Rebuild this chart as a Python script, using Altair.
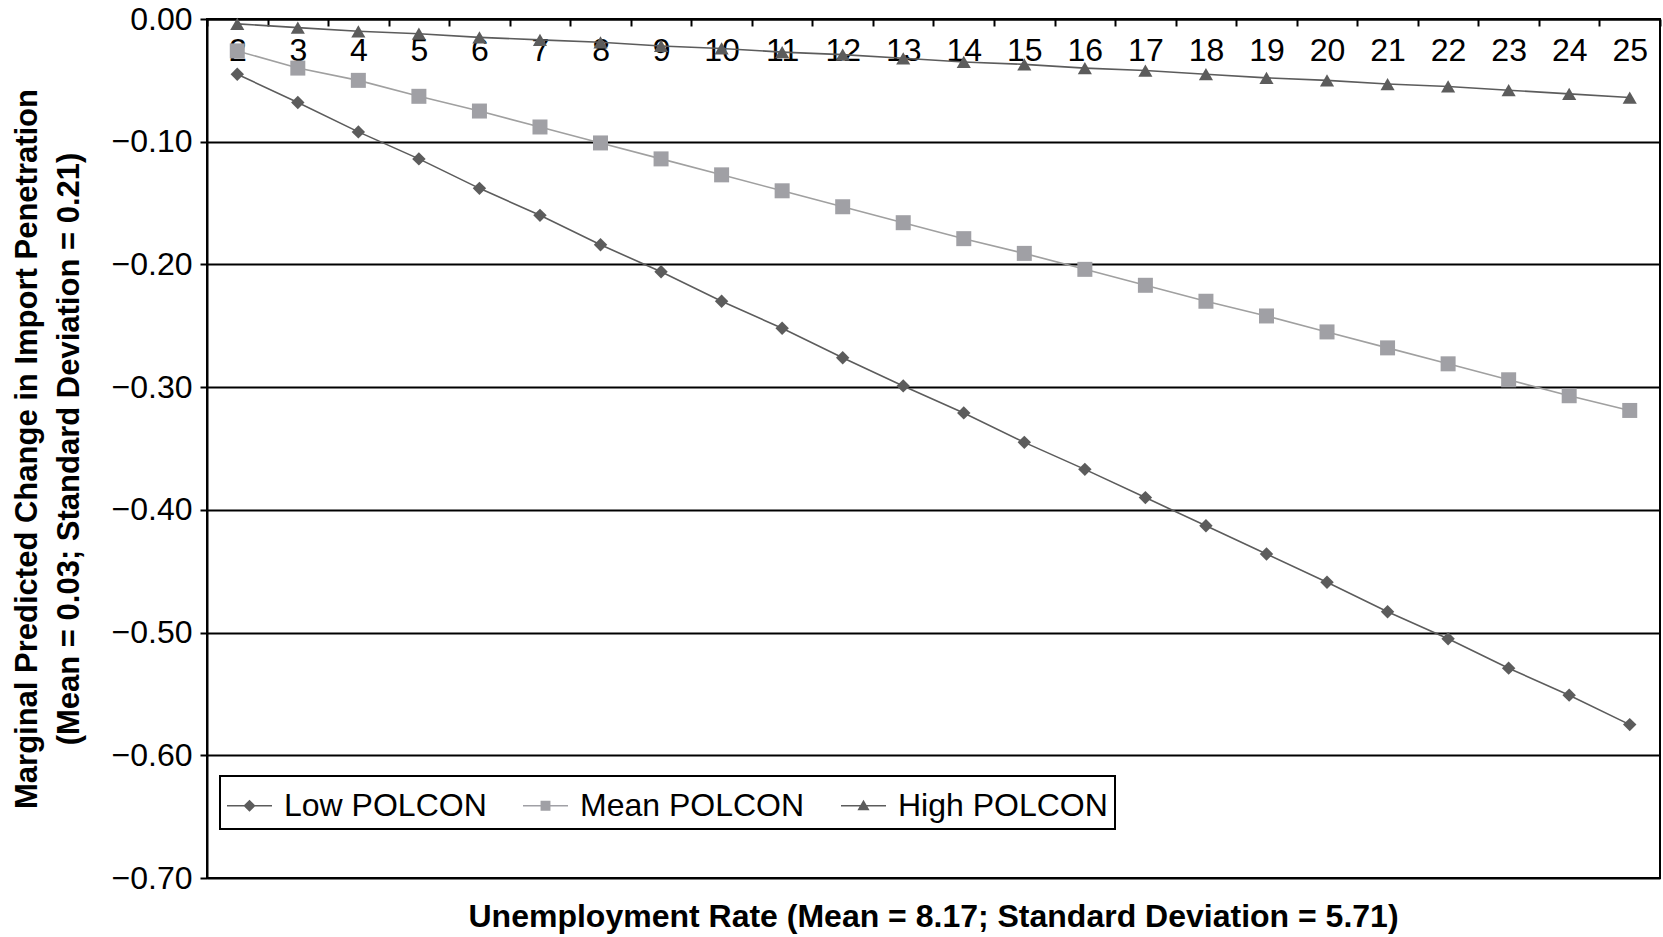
import altair as alt
import pandas as pd

unemployment = [2, 3, 4, 5, 6, 7, 8, 9, 10, 11, 12, 13, 14, 15, 16, 17, 18, 19, 20, 21, 22, 23, 24, 25]
low_polcon = [-0.045, -0.068, -0.092, -0.114, -0.138, -0.160, -0.184, -0.206, -0.230, -0.252,
              -0.276, -0.299, -0.321, -0.345, -0.367, -0.390, -0.413, -0.436, -0.459, -0.483,
              -0.505, -0.529, -0.551, -0.575]
mean_polcon = [-0.026, -0.040, -0.050, -0.063, -0.075, -0.088, -0.101, -0.114, -0.127, -0.140,
               -0.153, -0.166, -0.179, -0.191, -0.204, -0.217, -0.230, -0.242, -0.255, -0.268,
               -0.281, -0.294, -0.307, -0.319]
high_polcon = [-0.004, -0.007, -0.010, -0.012, -0.015, -0.017, -0.019, -0.022, -0.024, -0.027,
               -0.029, -0.032, -0.035, -0.037, -0.040, -0.042, -0.045, -0.048, -0.050, -0.053,
               -0.055, -0.058, -0.061, -0.064]
series_names = ["Low POLCON", "Mean POLCON", "High POLCON"]
y_ticks = [0.0, -0.1, -0.2, -0.3, -0.4, -0.5, -0.6, -0.7]

x_title = "Unemployment Rate (Mean = 8.17; Standard Deviation = 5.71)"
y_title = ["Marginal Predicted Change in Import Penetration",
           "(Mean = 0.03; Standard Deviation = 0.21)"]

rows = []
for name, vals in zip(series_names, [low_polcon, mean_polcon, high_polcon]):
    for u, v in zip(unemployment, vals):
        rows.append({"u": u, "v": v, "series": name})
df = pd.DataFrame(rows)

W, H = 1453, 859
FONT = "Liberation Sans"

x_enc = alt.X(
    "u:O",
    bandPosition=0.5,
    sort=unemployment,
    scale=alt.Scale(type="band", paddingInner=0, paddingOuter=0),
    axis=alt.Axis(
        orient="bottom", offset=-H, title=None, labelAngle=0, tickBand="extent",
        tickSize=7, tickWidth=2, tickColor="black", domain=True, domainColor="black",
        domainWidth=2, labelFontSize=32, labelColor="black", labelPadding=9, grid=False,
    ),
)
y_enc = alt.Y(
    "v:Q",
    scale=alt.Scale(domain=[-0.7, 0], nice=False, zero=False),
    axis=alt.Axis(
        values=y_ticks, format=".2f", title=y_title, titleFontSize=31, titleFontWeight="bold",
        titleColor="black", titleLineHeight=42, titlePadding=26, labelFontSize=32,
        labelColor="black", labelPadding=8, tickSize=7, tickWidth=2, tickColor="black",
        domainColor="black", domainWidth=2, grid=True, gridColor="black", gridWidth=2,
    ),
)

styles = {
    "Low POLCON": {"line": "#5c5c5c", "pt": "#5c5c5c", "shape": "diamond", "size": 180},
    "Mean POLCON": {"line": "#a0a0a0", "pt": "#a0a0a5", "shape": "square", "size": 225},
    "High POLCON": {"line": "#5c5c5c", "pt": "#5c5c5c", "shape": "triangle-up", "size": 200},
}

layers = []
for name in series_names:
    st = styles[name]
    base = alt.Chart(df).transform_filter(alt.datum.series == name)
    layers.append(base.mark_line(color=st["line"], strokeWidth=1.6).encode(x=x_enc, y=y_enc))
    layers.append(
        base.mark_point(shape=st["shape"], filled=True, size=st["size"], color=st["pt"],
                        opacity=1, strokeWidth=0).encode(x=x_enc, y=y_enc)
    )

legend_paths = [
    "M-1,-0.035H1V0.035H-1Z M0,-0.27L0.27,0L0,0.27L-0.27,0Z",
    "M-1,-0.035H1V0.035H-1Z M-0.22,-0.22H0.22V0.22H-0.22Z",
    "M-1,-0.035H1V0.035H-1Z M0,-0.27L0.27,0.2L-0.27,0.2Z",
]
legend_colors = [styles[n]["pt"] for n in series_names]
leg = alt.Legend(
    title=None, orient="none", legendX=13, legendY=757, direction="horizontal",
    labelFontSize=32, labelColor="black", labelOffset=12, labelLimit=500, symbolSize=2025,
    columnPadding=36, padding=7, strokeColor="black", fillColor="white",
    symbolStrokeWidth=0, symbolOpacity=1,
)
legend_layer = (
    alt.Chart(df)
    .transform_filter("datum.u < 0")
    .mark_point(filled=True, opacity=1)
    .encode(
        x=x_enc,
        y=y_enc,
        color=alt.Color("series:N", scale=alt.Scale(domain=series_names, range=legend_colors), legend=leg),
        shape=alt.Shape("series:N", scale=alt.Scale(domain=series_names, range=legend_paths), legend=leg),
    )
)
layers.append(legend_layer)

chart = (
    alt.layer(*layers)
    .properties(
        width=W,
        height=H,
        autosize=alt.AutoSizeParams(type="none"),
        padding={"left": 207, "top": 19, "right": 3, "bottom": 59},
        title=alt.TitleParams(
            text=x_title, orient="bottom", anchor="middle", fontSize=32, fontWeight="bold",
            color="black", offset=8, font=FONT,
        ),
    )
    .configure(font=FONT)
    .configure_view(stroke="black", strokeWidth=2)
    .configure_legend(strokeWidth=2)
)

chart.save("out.html", embed_options={"renderer": "svg", "actions": False})
